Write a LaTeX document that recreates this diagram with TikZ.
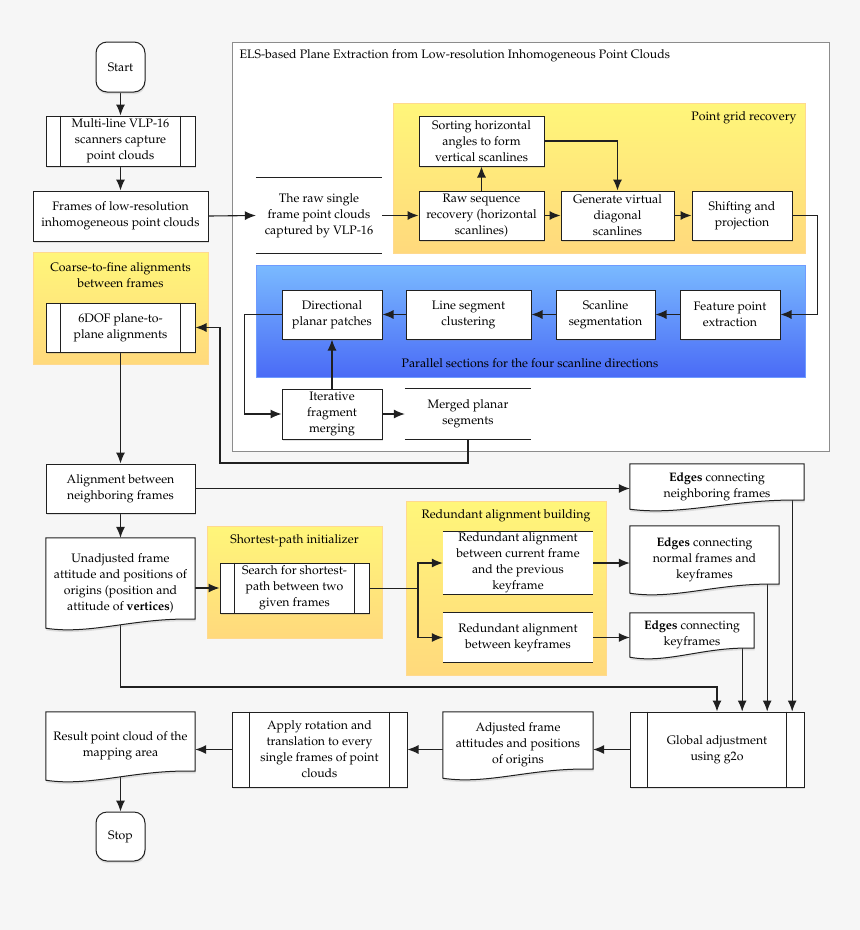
\documentclass[tikz,border=0pt]{standalone}
\usepackage[T1]{fontenc}
\renewcommand{\rmdefault}{ppl}
\usetikzlibrary{arrows.meta,calc,shadows}

\definecolor{bggray}{HTML}{F6F6F6}
\definecolor{linecol}{HTML}{202020}
\definecolor{elsborder}{HTML}{8C8C8C}
\definecolor{ytop}{HTML}{FFF67A}
\definecolor{ybot}{HTML}{FFD97C}
\definecolor{yborder}{HTML}{FFD98E}
\definecolor{btop}{HTML}{7ABAFF}
\definecolor{bbot}{HTML}{4A6BF6}
\definecolor{bborder}{HTML}{6E9BFF}

\pgfdeclarelayer{groups}
\pgfdeclarelayer{links}
\pgfdeclarelayer{docs}
\pgfsetlayers{groups,links,docs,main}

\tikzset{
  box/.style={draw=linecol, fill=white, line width=1pt, inner sep=0pt, align=center,
    drop shadow={shadow xshift=0.5pt, shadow yshift=-2.2pt, opacity=0.22}},
  dims/.style 2 args={minimum width=#1pt, minimum height=#2pt},
  term/.style={box, rounded corners=11pt},
  plain/.style={inner sep=0pt, align=center},
  doc/.style={fill=white, draw=linecol, line width=1pt,
    drop shadow={shadow xshift=0.5pt, shadow yshift=-2.2pt, opacity=0.22}},
  link/.style={draw=linecol, line width=1.1pt, -{Latex[length=11pt,width=9pt]}},
  wire/.style={draw=linecol, line width=1pt},
  ygroup/.style={top color=ytop, bottom color=ybot, draw=yborder, line width=0.8pt},
  bgroup/.style={top color=btop, bottom color=bbot, draw=bborder, line width=0.8pt},
}

% inner bars of a predefined process
\newcommand{\sidebars}[2]{\draw[wire] ([xshift=#2pt]#1.north west) -- ([xshift=#2pt]#1.south west)
  ([xshift=-#2pt]#1.north east) -- ([xshift=-#2pt]#1.south east);}
% top and bottom rules only
\newcommand{\rules}[1]{\draw[wire] (#1.north west) -- (#1.north east) (#1.south west) -- (#1.south east);}
% document shape with wavy bottom
\newcommand{\docoutline}[1]{\begin{pgfonlayer}{docs}
  \path[doc] (#1.north west) -- (#1.south west)
    .. controls ($(#1.south west)!0.3!(#1.south east)+(0,7)$) and ($(#1.south west)!0.6!(#1.south east)+(0,-11)$)
    .. ($(#1.south east)+(0,-9)$) -- (#1.north east) -- cycle;
  \end{pgfonlayer}}

\begin{document}
\begin{tikzpicture}[x=1pt, y=-1pt, font=\fontsize{12.3}{16}\selectfont]
  % background and groups
  \begin{pgfonlayer}{groups}
    \fill[bggray] (0,0) rectangle (860,930);
    \path[fill=white, draw=elsborder, line width=1pt] (232,42) rectangle (829,451);
    \path[ygroup] (393,103) rectangle (805,253);
    \path[bgroup] (256,265) rectangle (805,377);
    \path[ygroup] (33,252) rectangle (208,364);
    \path[ygroup] (207,526) rectangle (382,638);
    \path[ygroup] (406,501) rectangle (606,675);
  \end{pgfonlayer}
  \useasboundingbox (0,0) rectangle (860,930);

  % group labels
  \node[anchor=west] (elstitle) at (236,56) {ELS-based Plane Extraction from Low-resolution Inhomogeneous Point Clouds};
  \node[anchor=east] (pgrlbl) at (800,118) {Point grid recovery};
  \node (parlbl) at (530,363) {Parallel sections for the four scanline directions};
  \node[plain] (coarselbl) at (120.5,275) {Coarse-to-fine alignments\\between frames};
  \node (spilbl) at (294.5,541) {Shortest-path initializer};
  \node (rablbl) at (506,516) {Redundant alignment building};

  % left column
  \node[term, dims={49}{50}] (start) at (120.5,67) {Start};
  \node[box, dims={149}{50}] (scan) at (120.5,141) {Multi-line VLP-16\\scanners capture\\point clouds};
  \sidebars{scan}{15}
  \node[box, dims={175}{50}] (frames) at (120.5,216) {Frames of low-resolution\\inhomogeneous point clouds};
  \node[box, dims={149}{49}] (sixdof) at (120.5,327.5) {6DOF plane-to-\\plane alignments};
  \sidebars{sixdof}{15}
  \node[box, dims={149}{49}] (align) at (120.5,488.5) {Alignment between\\neighboring frames};
  \node[plain, dims={149}{90}] (unadj) at (120.5,583) {Unadjusted frame\\attitude and positions of\\origins (position and\\attitude of \textbf{vertices})};
  \docoutline{unadj}
  \node[plain, dims={149}{68}] (result) at (120.5,746) {Result point cloud of the\\mapping area};
  \docoutline{result}
  \node[term, dims={49}{49}] (stop) at (120.5,836.5) {Stop};

  % plane extraction
  \node[plain, dims={126}{75}] (raw) at (319,215.5) {The raw single\\frame point clouds\\captured by VLP-16};
  \rules{raw}
  \node[box, dims={125}{50}] (sort) at (481.5,141) {Sorting horizontal\\angles to form\\vertical scanlines};
  \node[box, dims={125}{49}] (rawseq) at (481.5,215.5) {Raw sequence\\recovery (horizontal\\scanlines)};
  \node[box, dims={113}{49}] (genvirt) at (617.5,215.5) {Generate virtual\\diagonal\\scanlines};
  \node[box, dims={100}{49}] (shift) at (742,215.5) {Shifting and\\projection};
  \node[box, dims={100}{49}] (feat) at (730,314.5) {Feature point\\extraction};
  \node[box, dims={99}{49}] (scanseg) at (605.5,314.5) {Scanline\\segmentation};
  \node[box, dims={125}{49}] (lineseg) at (468.5,314.5) {Line segment\\clustering};
  \node[box, dims={100}{49}] (direct) at (332,314.5) {Directional\\planar patches};
  \node[box, dims={100}{50}] (iter) at (332,414) {Iterative\\fragment\\merging};
  \node[plain, dims={126}{50}] (merged) at (468,414) {Merged planar\\segments};
  \rules{merged}

  % graph optimisation
  \node[box, dims={149}{50}] (search) at (294.5,588) {Search for shortest-\\path between two\\given frames};
  \sidebars{search}{15}
  \node[plain, fill=white, dims={150}{62}] (red1) at (518,563) {Redundant alignment\\between current frame\\and the previous\\keyframe};
  \rules{red1}
  \node[plain, fill=white, dims={150}{49}] (red2) at (518,637.5) {Redundant alignment\\between keyframes};
  \rules{red2}
  \node[plain, dims={174}{45}] (edgn) at (717,486.5) {\textbf{Edges} connecting\\neighboring frames};
  \docoutline{edgn}
  \node[plain, dims={149}{67}] (edgnk) at (704.5,559.5) {\textbf{Edges} connecting\\normal frames and\\keyframes};
  \docoutline{edgnk}
  \node[plain, dims={124}{44}] (edgk) at (692,635) {\textbf{Edges} connecting\\keyframes};
  \docoutline{edgk}
  \node[box, dims={174}{75}] (global) at (717,749.5) {Global adjustment\\using g2o};
  \sidebars{global}{18}
  \node[plain, dims={150}{66}] (adjusted) at (518,745) {Adjusted frame\\attitudes and positions\\of origins};
  \docoutline{adjusted}
  \node[box, dims={175}{75}] (apply) at (319.5,749.5) {Apply rotation and\\translation to every\\single frames of point\\clouds};
  \sidebars{apply}{18}

  \coordinate (mrgturn) at (220,463);
  \coordinate (split) at (418,588);
  \coordinate (lowturn) at (120.5,687);

  % connectors
  \begin{pgfonlayer}{links}
    \draw[link] (start) -- (scan);
    \draw[link] (scan) -- (frames);
    \draw[link] (frames.east) -- (raw.west);
    \draw[link] (raw.east) -- (rawseq.west);
    \draw[link] (rawseq.north) -- (sort.south);
    \draw[link] (sort.east) -| (genvirt.north);
    \draw[link] (rawseq.east) -- (genvirt.west);
    \draw[link] (genvirt.east) -- (shift.west);
    \draw[link] (shift.east) -- ++(25,0) |- (feat.east);
    \draw[link] (feat.west) -- (scanseg.east);
    \draw[link] (scanseg.west) -- (lineseg.east);
    \draw[link] (lineseg.west) -- (direct.east);
    \draw[link] (direct.west) -- ++(-37,0) |- (iter.west);
    \draw[link] (iter.north) -- (direct.south);
    \draw[link] (iter.east) -- (merged.west);
    \draw[link] (merged.south) |- (mrgturn) |- (sixdof.east);
    \draw[link] (sixdof) -- (align);
    \draw[link] (align.east) -- (align.east -| edgn.west);
    \draw[link] (align) -- (unadj);
    \draw[link] (search.west -| unadj.east) -- (search.west);
    \draw[wire] (search.east) -- (split);
    \draw[link] (split) |- (red1.west);
    \draw[link] (split) |- (red2.west);
    \draw[link] (red1.east) -- (red1.east -| edgnk.west);
    \draw[link] (red2.east) -- (red2.east -| edgk.west);
    \draw[link] ([xshift=-12pt]edgn.east) -- ([xshift=-12pt]edgn.east |- global.north);
    \draw[link] ([xshift=-12pt]edgnk.east) -- ([xshift=-12pt]edgnk.east |- global.north);
    \draw[link] ([xshift=-12pt]edgk.east) -- ([xshift=-12pt]edgk.east |- global.north);
    \draw[link] (unadj.center) -- (lowturn) -| (global.north);
    \draw[link] (global.west) -- (global.west -| adjusted.east);
    \draw[link] (apply.east -| adjusted.west) -- (apply.east);
    \draw[link] (apply.west) -- (apply.west -| result.east);
    \draw[link] (result.center) -- (stop.north);
  \end{pgfonlayer}
\end{tikzpicture}
\end{document}
